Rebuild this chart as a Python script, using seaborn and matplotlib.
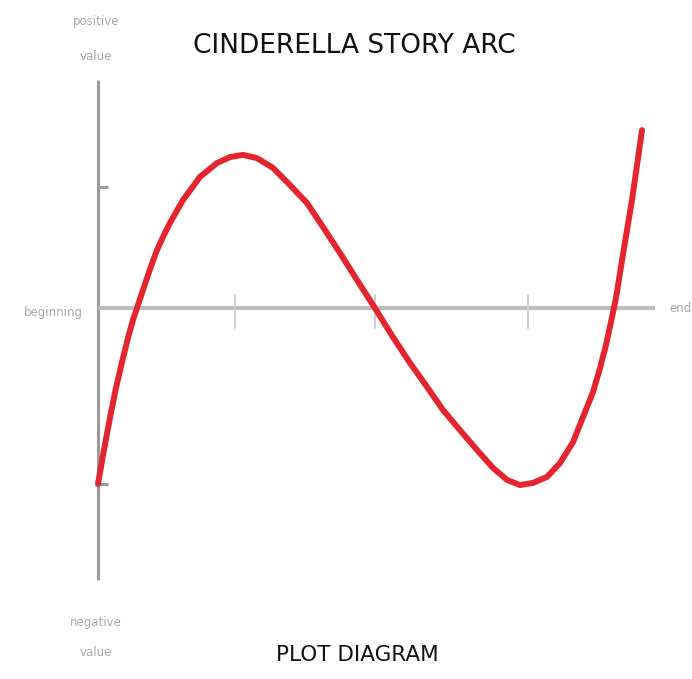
import matplotlib
matplotlib.use("Agg")
import matplotlib.pyplot as plt
import seaborn as sns

# story progress (0 = beginning, 100 = end) and value (+ positive / - negative)
progress = [0.0, 1.08, 2.15, 3.23, 4.31, 5.39, 6.28, 7.18, 8.08, 9.34, 10.59, 11.76,
            12.93, 15.26, 18.31, 21.36, 23.70, 26.03, 28.55, 31.42, 34.47, 37.52,
            40.39, 43.45, 46.50, 49.37, 52.96, 56.01, 59.07, 61.94, 64.99, 68.04,
            70.92, 73.43, 75.76, 78.10, 80.61, 82.94, 85.28, 87.07, 88.87, 90.13,
            91.20, 92.10, 93.00, 94.08, 95.87, 97.67]
value = [-64.7, -52.2, -40.4, -29.4, -19.9, -11.0, -4.4, 1.1, 6.6, 14.3, 21.3, 26.5,
         31.3, 39.7, 48.2, 53.3, 55.5, 56.3, 55.1, 51.5, 45.2, 38.6,
         29.8, 20.2, 10.3, 1.1, -10.7, -20.2, -29.0, -37.5, -44.9, -52.2,
         -58.8, -63.2, -65.1, -64.3, -62.1, -57.0, -49.3, -40.1, -30.9, -22.1,
         -13.6, -5.1, 3.7, 17.6, 39.7, 65.4]

x_ticks = [24.6, 49.7, 77.2]
y_ticks = [44.5, -64.7]
title = "CINDERELLA STORY ARC"
subtitle = "PLOT DIAGRAM"

sns.set_style("white")
plt.rcParams['font.family'] = ['Liberation Sans Narrow', 'DejaVu Sans Condensed', 'DejaVu Sans']

fig = plt.figure(figsize=(6.92, 6.79), dpi=100)
ax = fig.add_axes([0, 0, 1, 1])
ax.set_xlim(-17.59, 106.64)
ax.set_ylim(-136.4, 113.24)
ax.axis("off")

# axes drawn by hand like the sketch
ax.plot([0, 0], [-100.0, 83.8], color="#9a9a9a", lw=2.2, solid_capstyle="butt", zorder=1)
ax.plot([0, 100], [0, 0], color="#bdbdbd", lw=3, solid_capstyle="butt", zorder=1)
for yt in y_ticks:
    ax.plot([0, 1.8], [yt, yt], color="#9a9a9a", lw=2.2, solid_capstyle="butt", zorder=1)
for xt in x_ticks:
    ax.plot([xt, xt], [-7.4, 4.8], color="#cfcfcf", lw=1.5, zorder=1)

sns.lineplot(x=progress, y=value, sort=False, estimator=None, ax=ax,
             color="#e3262e", lw=4.3, zorder=3)
ax.lines[-1].set_solid_capstyle("round")
ax.lines[-1].set_solid_joinstyle("round")

lab = dict(color="#a8a8a8", fontsize=8.5, ha="center", va="center")
ax.text(-0.3, 105.5, "positive", **lab)
ax.text(-0.3, 92.5, "value", **lab)
ax.text(-0.3, -115.5, "negative", **lab)
ax.text(-0.3, -126.5, "value", **lab)
ax.text(-8.0, -1.8, "beginning", **lab)
ax.text(104.5, 0.0, "end", **lab)

ax.text(46.0, 96.5, title, fontsize=19, ha="center", va="center", color="#111111")
ax.text(46.5, -127.5, subtitle, fontsize=15.5, ha="center", va="center", color="#111111")

fig.savefig("out.png", dpi=100)
